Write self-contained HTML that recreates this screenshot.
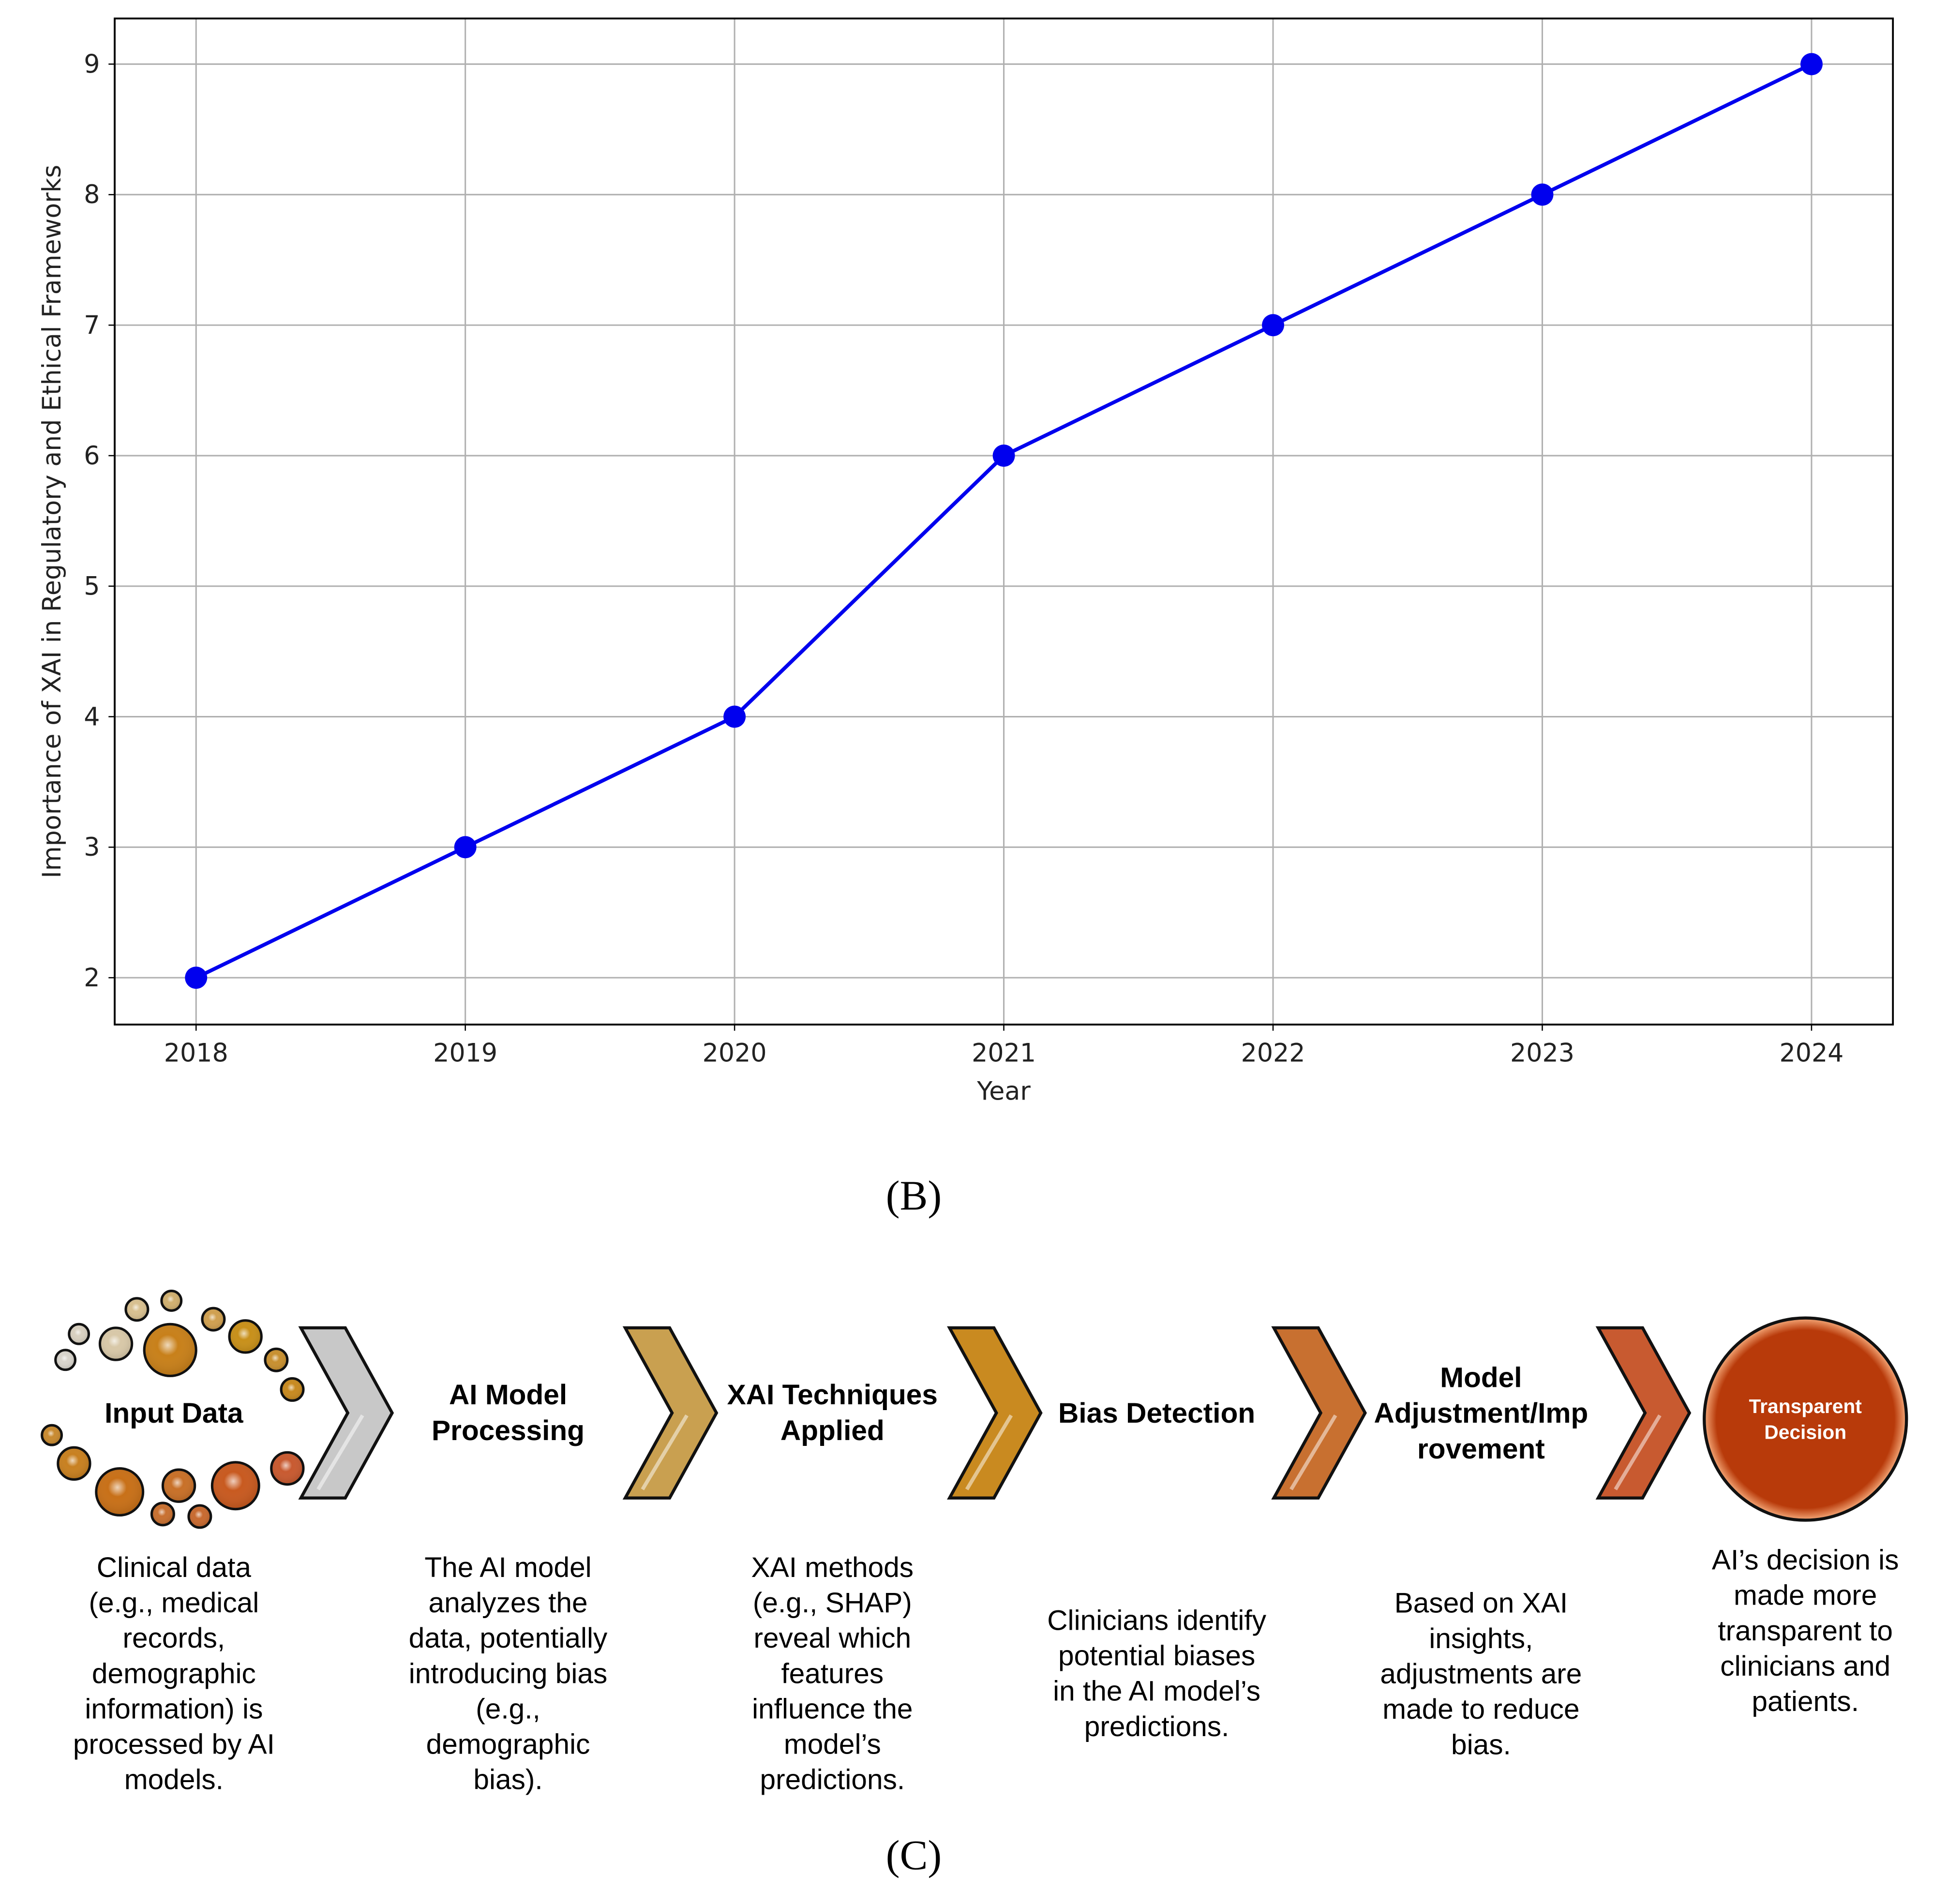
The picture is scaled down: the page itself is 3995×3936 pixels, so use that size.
<!DOCTYPE html>
<html><head><meta charset="utf-8">
<style>
html,body{margin:0;padding:0;background:#fff;width:3995px;height:3936px;overflow:hidden}
svg{display:block}
.tick{font-family:"DejaVu Sans",sans-serif;font-size:20.5px;fill:#222}
.cal{font-family:"Liberation Sans Narrow","Liberation Sans",sans-serif}
.desc{font-size:23px;fill:#000}
.head{font-size:23px;font-weight:bold;fill:#000}
</style></head>
<body>
<svg id="root" width="3995" height="3936" viewBox="0 0 1567.5 1544.3" preserveAspectRatio="none">
<defs>
<radialGradient id="bub" cx="45%" cy="40%" r="60%"><stop offset="0" stop-color="#fff" stop-opacity="0.7"/><stop offset="0.35" stop-color="#fff" stop-opacity="0"/><stop offset="1" stop-color="#000" stop-opacity="0.1"/></radialGradient>
<radialGradient id="big" cx="50%" cy="50%" r="55%"><stop offset="0.8" stop-color="#b83a0a"/><stop offset="0.9" stop-color="#f0a070"/><stop offset="1" stop-color="#a03008"/></radialGradient>
</defs>
<g id="chart"></g>
<text x="741" y="981" text-anchor="middle" font-family="Liberation Serif,serif" font-size="34">(B)</text>
<g id="diagram"></g>
<text x="741" y="1516" text-anchor="middle" font-family="Liberation Serif,serif" font-size="34">(C)</text>
</svg>
<script>
const years = [2018, 2019, 2020, 2021, 2022, 2023, 2024];
const importance = [2, 3, 4, 6, 7, 8, 9];
const yTicks = [2, 3, 4, 5, 6, 7, 8, 9];

const NS = "http://www.w3.org/2000/svg";
function mk(tag, attrs, parent){const e=document.createElementNS(NS,tag);for(const k in attrs)e.setAttribute(k,attrs[k]);parent.appendChild(e);return e;}
const chart=document.getElementById('chart');
const L=93,R=1535,T=15,B=831;
const xs=v=>159+(v-2018)*(1469-159)/6;
const ys=v=>793-(v-2)*(793-52)/7;
for(const t of yTicks){
  const g=mk('line',{x1:L,x2:R,y1:ys(t),y2:ys(t),stroke:'#b0b0b0','stroke-width':1.2},chart);
  
  
  mk('line',{x1:L-5,x2:L,y1:ys(t),y2:ys(t),stroke:'#000','stroke-width':1},chart);
  const tx=mk('text',{x:L-12,y:ys(t)+7,'text-anchor':'end',class:'tick'},chart);
  tx.textContent=t;
  
  
}
for(const y of years){
  const g=mk('line',{x1:xs(y),x2:xs(y),y1:T,y2:B,stroke:'#b0b0b0','stroke-width':1.2},chart);
  
  
  mk('line',{x1:xs(y),x2:xs(y),y1:B,y2:B+5,stroke:'#000','stroke-width':1},chart);
  const tx=mk('text',{x:xs(y),y:B+30,'text-anchor':'middle',class:'tick'},chart);
  tx.textContent=y;
  
  
}
const frame=mk('rect',{x:L,y:T,width:R-L,height:B-T,fill:'none',stroke:'#000','stroke-width':1.5},chart);


const pts=years.map((y,i)=>xs(y)+','+ys(importance[i])).join(' ');
const line=mk('polyline',{points:pts,fill:'none',stroke:'#0000ee','stroke-width':3},chart);


years.forEach((y,i)=>{
  const c=mk('circle',{cx:xs(y),cy:ys(importance[i]),r:9,fill:'#0000ee'},chart);
  
  
});
const xl=mk('text',{x:814,y:892,'text-anchor':'middle',class:'tick'},chart);
xl.textContent='Year';


const yl=mk('text',{x:0,y:0,'text-anchor':'middle',class:'tick',transform:'translate(49,423) rotate(-90)'},chart);
yl.textContent='Importance of XAI in Regulatory and Ethical Frameworks';



// diagram
const dg=document.getElementById('diagram');
const bubbles=[[53,1103,8,'#d8d4cc'],[64,1082,8,'#d8d0c0'],[94,1090,13,'#d8c8a8'],[111,1062,9,'#d8c090'],[139,1055,8,'#d0b070'],[138,1095,21,'#c8801a'],[173,1070,9,'#d0a050'],[199,1084,13,'#c8901a'],[224,1103,9,'#c89030'],[237,1127,9,'#c88a20'],[42,1164,8,'#c88a30'],[60,1187,13,'#c88020'],[97,1210,19,'#c87018'],[132,1228,9,'#c87030'],[145,1205,13,'#c87028'],[162,1230,9,'#c86a30'],[191,1205,19,'#c85a20'],[233,1191,13,'#c85a30']];
for(const b of bubbles){
  const c=mk('circle',{cx:b[0],cy:b[1],r:b[2],fill:b[3],stroke:'#111','stroke-width':2},dg);
  
  
  mk('circle',{cx:b[0],cy:b[1],r:b[2]-1,fill:'url(#bub)'},dg);
}
const chev=[[244,'#c8c8c8'],[507,'#c9a050'],[770,'#c98a20'],[1033,'#c87030'],[1296,'#c85a30']];
chev.forEach(c=>{
  const x=c[0];
  const p=mk('polygon',{points:`${x},1077 ${x+36},1077 ${x+74},1146 ${x+36},1215 ${x},1215 ${x+38},1146`,fill:c[1],stroke:'#111','stroke-width':2.5,'stroke-linejoin':'miter'},dg);
  
  
  mk('polyline',{points:`${x+14},1208 ${x+50},1148`,stroke:'#fff','stroke-opacity':0.5,'stroke-width':3,fill:'none'},dg);
});
const bc=mk('circle',{cx:1464,cy:1151,r:82,fill:'url(#big)',stroke:'#111','stroke-width':2.5},dg);


function txt(lines,x,y0,cls,name,fill){
  const t=mk('text',{x:x,y:y0,'text-anchor':'middle',class:'cal '+cls},dg);
  if(fill)t.setAttribute('fill',fill);
  
  
  lines.forEach((l,i)=>{const s=mk('tspan',{x:x,y:y0+i*(cls==='head'?29:28.7)},t);s.textContent=l;});
}
txt(['Input Data'],141,1154,'head','heading-input-data');
txt(['AI Model','Processing'],412,1139,'head','heading-ai-model');
txt(['XAI Techniques','Applied'],675,1139,'head','heading-xai-techniques');
txt(['Bias Detection'],938,1154,'head','heading-bias-detection');
txt(['Model','Adjustment/Imp','rovement'],1201,1125,'head','heading-model-adjustment');
const td=mk('text',{x:1464,y:1146,'text-anchor':'middle',class:'cal','font-size':16,'font-weight':'bold',fill:'#fff'},dg);


[['Transparent',0],['Decision',21]].forEach(a=>{const s=mk('tspan',{x:1464,y:1146+a[1]},td);s.textContent=a[0];});
txt(['Clinical data','(e.g., medical','records,','demographic','information) is','processed by AI','models.'],141,1279,'desc','desc-input-data');
txt(['The AI model','analyzes the','data, potentially','introducing bias','(e.g.,','demographic','bias).'],412,1279,'desc','desc-ai-model');
txt(['XAI methods','(e.g., SHAP)','reveal which','features','influence the','model\u2019s','predictions.'],675,1279,'desc','desc-xai-techniques');
txt(['Clinicians identify','potential biases','in the AI model\u2019s','predictions.'],938,1322,'desc','desc-bias-detection');
txt(['Based on XAI','insights,','adjustments are','made to reduce','bias.'],1201,1308,'desc','desc-model-adjustment');
txt(['AI\u2019s decision is','made more','transparent to','clinicians and','patients.'],1464,1273,'desc','desc-transparent-decision');
</script>
</body></html>
